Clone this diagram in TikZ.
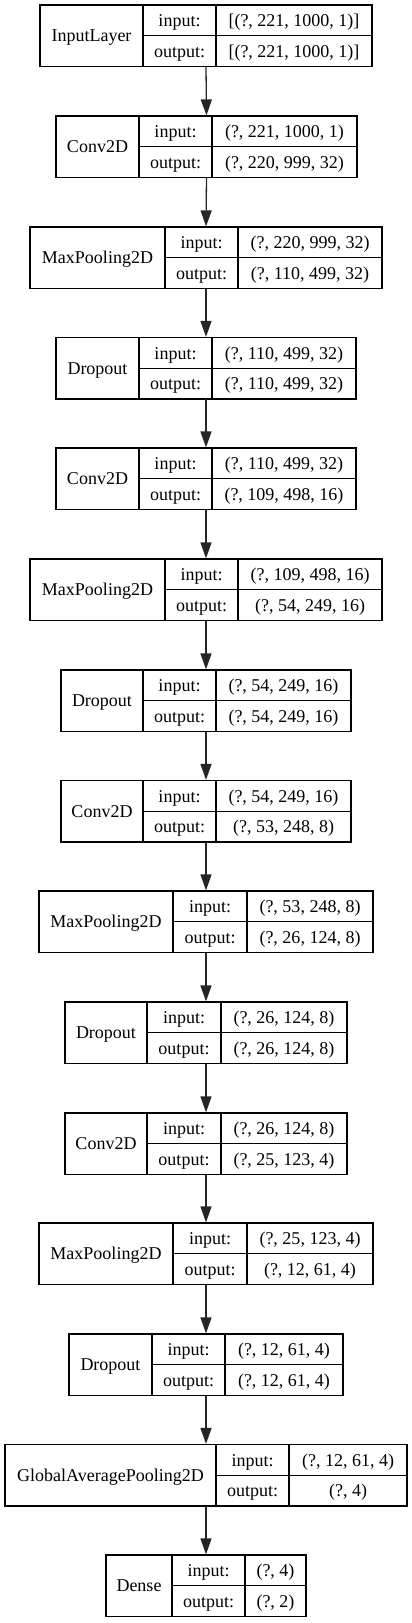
\documentclass[tikz,border=0pt]{standalone}
\usepackage{fontspec}
\setmainfont{Liberation Serif}
\usetikzlibrary{arrows.meta}
\tikzset{
  box/.style={draw=black, line width=1.2pt, inner sep=0pt, outer sep=0pt},
  boxline/.style={draw=black, line width=1.2pt},
  txt/.style={inner sep=0pt, anchor=base, font=\fontsize{18}{21}\selectfont},
  flow/.style={draw=black!85, line width=1.3pt, -{Triangle[length=16pt, width=11pt]}, shorten >=0.6pt},
}
% #1 name, #2 top, #3 left, #4 div1, #5 div2, #6 right, #7 label, #8 in, #9 out
\newcommand{\kerasLayer}[9]{%
  \node[box, anchor=north west, minimum width={#6-#3}, minimum height=61.5] (#1) at (#3,#2) {};
  \draw[boxline] ({#4},{#2}) -- ({#4},{#2+61.5});
  \draw[boxline] ({#5},{#2}) -- ({#5},{#2+61.5});
  \draw[boxline] ({#4},{#2+30.75}) -- ({#6},{#2+30.75});
  \node[txt] (#1-l) at ({(#3+#4)/2},{#2+36.5}) {#7};
  \node[txt] (#1-i) at ({(#4+#5)/2},{#2+21.5}) {input:};
  \node[txt] (#1-o) at ({(#4+#5)/2},{#2+52.3}) {output:};
  \node[txt] (#1-vi) at ({(#5+#6)/2},{#2+21.5}) {#8};
  \node[txt] (#1-vo) at ({(#5+#6)/2},{#2+52.3}) {#9};
}
\begin{document}
\begin{tikzpicture}[x=1pt, y=-1pt]
\useasboundingbox[fill=white] (0,0) rectangle (412,1623);
\kerasLayer{l1}{5}{40}{143}{216}{372}{InputLayer}{[(?, 221, 1000, 1)]}{[(?, 221, 1000, 1)]}
\kerasLayer{l2}{116}{56}{139}{212}{357}{Conv2D}{(?, 221, 1000, 1)}{(?, 220, 999, 32)}
\kerasLayer{l3}{227}{30}{165}{238}{382}{MaxPooling2D}{(?, 220, 999, 32)}{(?, 110, 499, 32)}
\kerasLayer{l4}{337.5}{56}{139}{212}{356}{Dropout}{(?, 110, 499, 32)}{(?, 110, 499, 32)}
\kerasLayer{l5}{448}{56}{139}{212}{356}{Conv2D}{(?, 110, 499, 32)}{(?, 109, 498, 16)}
\kerasLayer{l6}{559}{30}{165}{238}{382}{MaxPooling2D}{(?, 109, 498, 16)}{(?, 54, 249, 16)}
\kerasLayer{l7}{670}{61}{143}{216}{351}{Dropout}{(?, 54, 249, 16)}{(?, 54, 249, 16)}
\kerasLayer{l8}{780.5}{61}{143}{216}{351}{Conv2D}{(?, 54, 249, 16)}{(?, 53, 248, 8)}
\kerasLayer{l9}{891}{39}{173}{247}{373}{MaxPooling2D}{(?, 53, 248, 8)}{(?, 26, 124, 8)}
\kerasLayer{l10}{1002}{65}{147}{221}{347}{Dropout}{(?, 26, 124, 8)}{(?, 26, 124, 8)}
\kerasLayer{l11}{1113}{65}{147}{221}{347}{Conv2D}{(?, 26, 124, 8)}{(?, 25, 123, 4)}
\kerasLayer{l12}{1223}{39}{173}{247}{373}{MaxPooling2D}{(?, 25, 123, 4)}{(?, 12, 61, 4)}
\kerasLayer{l13}{1334}{69}{152}{225}{343}{Dropout}{(?, 12, 61, 4)}{(?, 12, 61, 4)}
\kerasLayer{l14}{1444.5}{5}{216}{289}{407}{GlobalAveragePooling2D}{(?, 12, 61, 4)}{(?, 4)}
\kerasLayer{l15}{1555}{106}{172}{245}{306}{Dense}{(?, 4)}{(?, 2)}
\foreach \a/\b in {l1/l2,l2/l3,l3/l4,l4/l5,l5/l6,l6/l7,l7/l8,l8/l9,l9/l10,l10/l11,l11/l12,l12/l13,l13/l14,l14/l15}
  \draw[flow] (\a.south) -- (\b.north);
\end{tikzpicture}
\end{document}
